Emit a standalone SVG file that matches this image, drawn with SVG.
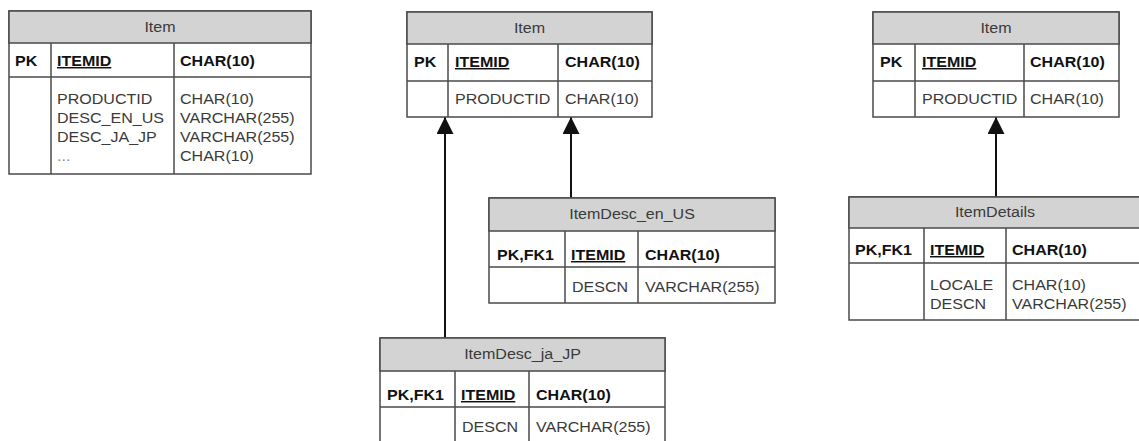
<svg xmlns="http://www.w3.org/2000/svg" width="1139" height="441" viewBox="0 0 1139 441">
  <style>
    text { font-family: "Liberation Sans", Arial, sans-serif; font-size: 15px; }
    .hdr { fill: #d3d3d3; stroke: #4a4a4a; stroke-width: 1.5; }
    .box { fill: #ffffff; stroke: #4a4a4a; stroke-width: 1.5; }
    .div { stroke: #4a4a4a; stroke-width: 1.5; fill: none; }
    .title { fill: #3a3a3a; text-anchor: middle; }
    .key { fill: #111111; font-weight: bold; }
    .pk { text-decoration: underline; }
    .col { fill: #3a3a3a; }
    .more { fill: #8a8a8a; }
    .conn { stroke: #111111; stroke-width: 2; fill: none; }
  </style>
  <defs>
    <marker id="arrow" markerUnits="userSpaceOnUse" markerWidth="18" markerHeight="18" refX="17" refY="8.5" orient="auto">
      <path d="M0,0 L17,8.5 L0,17 Z" fill="#111111"/>
    </marker>
  </defs>

  <rect width="1139" height="441" fill="#ffffff"/>

  <!-- relationships -->
  <g id="connectors">
    <line class="conn" x1="445" y1="338" x2="445" y2="117" marker-end="url(#arrow)"/>
    <line class="conn" x1="571" y1="198" x2="571" y2="117" marker-end="url(#arrow)"/>
    <line class="conn" x1="996" y1="198" x2="996" y2="117" marker-end="url(#arrow)"/>
  </g>

  <!-- single-table design -->
  <g id="item-flat">
    <rect class="box" x="9" y="11" width="302" height="163"/>
    <rect class="hdr" x="9" y="11" width="302" height="32"/>
    <line class="div" x1="9" y1="77" x2="311" y2="77"/>
    <line class="div" x1="51" y1="43" x2="51" y2="174"/>
    <line class="div" x1="174" y1="43" x2="174" y2="174"/>
    <text class="title" transform="translate(160 32) scale(1.07 1)">Item</text>
    <text class="key" transform="translate(15 66) scale(1.07 1)">PK</text>
    <text class="key pk" transform="translate(57 66) scale(1.07 1)">ITEMID</text>
    <text class="key" transform="translate(180 66) scale(1.07 1)">CHAR(10)</text>
    <text class="col" transform="translate(57 104) scale(1.07 1)">PRODUCTID</text>
    <text class="col" transform="translate(57 123) scale(1.07 1)">DESC_EN_US</text>
    <text class="col" transform="translate(57 142) scale(1.07 1)">DESC_JA_JP</text>
    <text class="more" transform="translate(57 161) scale(1.07 1)">...</text>
    <text class="col" transform="translate(180 104) scale(1.07 1)">CHAR(10)</text>
    <text class="col" transform="translate(180 123) scale(1.07 1)">VARCHAR(255)</text>
    <text class="col" transform="translate(180 142) scale(1.07 1)">VARCHAR(255)</text>
    <text class="col" transform="translate(180 161) scale(1.07 1)">CHAR(10)</text>
  </g>

  <!-- base table for per-locale tables -->
  <g id="item-base">
    <rect class="box" x="407" y="12" width="245" height="105"/>
    <rect class="hdr" x="407" y="12" width="245" height="32"/>
    <line class="div" x1="407" y1="81" x2="652" y2="81"/>
    <line class="div" x1="448" y1="44" x2="448" y2="117"/>
    <line class="div" x1="558" y1="44" x2="558" y2="117"/>
    <text class="title" transform="translate(529.5 33) scale(1.07 1)">Item</text>
    <text class="key" transform="translate(414 67) scale(1.07 1)">PK</text>
    <text class="key pk" transform="translate(455 67) scale(1.07 1)">ITEMID</text>
    <text class="key" transform="translate(565 67) scale(1.07 1)">CHAR(10)</text>
    <text class="col" transform="translate(455 104) scale(1.07 1)">PRODUCTID</text>
    <text class="col" transform="translate(565 104) scale(1.07 1)">CHAR(10)</text>
  </g>

  <g id="itemdesc-en-us">
    <rect class="box" x="489" y="198" width="286" height="105"/>
    <rect class="hdr" x="489" y="198" width="286" height="33"/>
    <line class="div" x1="489" y1="267" x2="775" y2="267"/>
    <line class="div" x1="565" y1="231" x2="565" y2="303"/>
    <line class="div" x1="638" y1="231" x2="638" y2="303"/>
    <text class="title" transform="translate(632 219) scale(1.07 1)">ItemDesc_en_US</text>
    <text class="key" transform="translate(497 260) scale(1.07 1)">PK,FK1</text>
    <text class="key pk" transform="translate(571 260) scale(1.07 1)">ITEMID</text>
    <text class="key" transform="translate(645 260) scale(1.07 1)">CHAR(10)</text>
    <text class="col" transform="translate(572 292) scale(1.07 1)">DESCN</text>
    <text class="col" transform="translate(645 292) scale(1.07 1)">VARCHAR(255)</text>
  </g>

  <g id="itemdesc-ja-jp">
    <rect class="box" x="380" y="338" width="285" height="108"/>
    <rect class="hdr" x="380" y="338" width="285" height="33"/>
    <line class="div" x1="380" y1="407" x2="665" y2="407"/>
    <line class="div" x1="455" y1="371" x2="455" y2="446"/>
    <line class="div" x1="529" y1="371" x2="529" y2="446"/>
    <text class="title" transform="translate(522.5 359) scale(1.07 1)">ItemDesc_ja_JP</text>
    <text class="key" transform="translate(387 400) scale(1.07 1)">PK,FK1</text>
    <text class="key pk" transform="translate(461 400) scale(1.07 1)">ITEMID</text>
    <text class="key" transform="translate(536 400) scale(1.07 1)">CHAR(10)</text>
    <text class="col" transform="translate(462 432) scale(1.07 1)">DESCN</text>
    <text class="col" transform="translate(536 432) scale(1.07 1)">VARCHAR(255)</text>
  </g>

  <!-- base table for the shared details table -->
  <g id="item-base-2">
    <rect class="box" x="873" y="12" width="246" height="105"/>
    <rect class="hdr" x="873" y="12" width="246" height="32"/>
    <line class="div" x1="873" y1="81" x2="1119" y2="81"/>
    <line class="div" x1="915" y1="44" x2="915" y2="117"/>
    <line class="div" x1="1024" y1="44" x2="1024" y2="117"/>
    <text class="title" transform="translate(996 33) scale(1.07 1)">Item</text>
    <text class="key" transform="translate(880 67) scale(1.07 1)">PK</text>
    <text class="key pk" transform="translate(922 67) scale(1.07 1)">ITEMID</text>
    <text class="key" transform="translate(1030 67) scale(1.07 1)">CHAR(10)</text>
    <text class="col" transform="translate(922 104) scale(1.07 1)">PRODUCTID</text>
    <text class="col" transform="translate(1030 104) scale(1.07 1)">CHAR(10)</text>
  </g>

  <g id="itemdetails">
    <rect class="box" x="849" y="197" width="292" height="123"/>
    <rect class="hdr" x="849" y="197" width="292" height="31"/>
    <line class="div" x1="849" y1="263" x2="1141" y2="263"/>
    <line class="div" x1="924" y1="228" x2="924" y2="320"/>
    <line class="div" x1="1006" y1="228" x2="1006" y2="320"/>
    <text class="title" transform="translate(995 217) scale(1.07 1)">ItemDetails</text>
    <text class="key" transform="translate(855 255) scale(1.07 1)">PK,FK1</text>
    <text class="key pk" transform="translate(930 255) scale(1.07 1)">ITEMID</text>
    <text class="key" transform="translate(1012 255) scale(1.07 1)">CHAR(10)</text>
    <text class="col" transform="translate(930 290) scale(1.07 1)">LOCALE</text>
    <text class="col" transform="translate(930 309) scale(1.07 1)">DESCN</text>
    <text class="col" transform="translate(1012 290) scale(1.07 1)">CHAR(10)</text>
    <text class="col" transform="translate(1012 309) scale(1.07 1)">VARCHAR(255)</text>
  </g>
</svg>
